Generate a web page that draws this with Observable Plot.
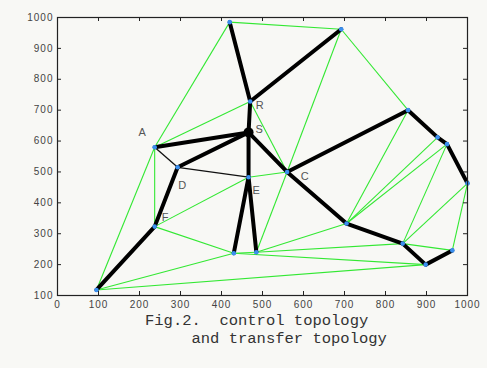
<!DOCTYPE html>
<html><head><meta charset="utf-8">
<script src="https://cdn.jsdelivr.net/npm/d3@7"></script>
<script src="https://cdn.jsdelivr.net/npm/@observablehq/plot@0.6"></script>
<style>
body{margin:0;background:#f8f8f5;}
#wrap{position:relative;width:487px;height:368px;overflow:hidden;}
#cap{position:absolute;left:145px;top:312px;margin:0;font-family:"Liberation Mono",monospace;font-size:15.5px;line-height:18px;color:#333;}
</style></head><body>
<div id="wrap"><div id="chart"></div><pre id="cap"></pre></div>
<script>
// Nodes of the topology
const nodeNames = ["T1","T2","R","S","A","D","E","C","P1","P2","P3","P4","Q1","Q2","Q3","Q4","B1","B2","F","L"];
const nodeX = [420, 692, 470, 466, 237, 293, 466, 560, 855, 927, 950, 1000, 705, 842, 898, 963, 430, 485, 237, 95];
const nodeY = [985, 962, 728, 628, 580, 515, 483, 500, 700, 612, 590, 463, 333, 268, 200, 246, 237, 240, 323, 118];

// Control topology (thick black)
const thickEdges = [["T1","R"],["T2","R"],["R","S"],["S","E"],["E","B1"],["E","B2"],["A","S"],["D","S"],["D","F"],["F","L"],["S","C"],["C","P1"],["P1","P2"],["P2","P3"],["P3","P4"],["C","Q1"],["Q1","Q2"],["Q2","Q3"],["Q3","Q4"]];
// Thin black links
const thinBlackEdges = [["A","D"],["D","E"]];
// Transfer topology (green)
const greenEdges = [["T1","T2"],["T1","A"],["A","R"],["A","F"],["A","L"],["R","C"],["T2","C"],["T2","P1"],["E","C"],["C","B2"],["E","F"],["F","B1"],["L","B1"],["L","Q3"],["B1","B2"],["B2","Q1"],["B2","Q2"],["B1","Q3"],["Q1","P1"],["Q1","P2"],["Q1","P3"],["Q2","P3"],["Q2","P4"],["Q4","P4"],["Q2","Q4"]];

const labelNodes = ["A","R","S","D","E","C","F"];
const labelOffsets = {A:[-12,-15], R:[10,4], S:[11,-3], D:[5,18], E:[8,13], C:[18,5], F:[11,-9]};

const xTicks = [0,100,200,300,400,500,600,700,800,900,1000];
const yTicks = [100,200,300,400,500,600,700,800,900,1000];
const captionLines = ["Fig.2.  control topology", "     and transfer topology"];

const W = 487, H = 312, mL = 57, mR = 20, mT = 17, mB = 17, tick = 4;
const innerW = W - mL - mR, innerH = H - mT - mB;

const pos = new Map(nodeNames.map((n,i)=>[n,[nodeX[i],nodeY[i]]]));
const seg = edges => edges.map(([a,b])=>({x1:pos.get(a)[0],y1:pos.get(a)[1],x2:pos.get(b)[0],y2:pos.get(b)[1]}));
const nodes = nodeNames.map((n,i)=>({n,x:nodeX[i],y:nodeY[i]}));
const labels = labelNodes.map(n=>({n,x:pos.get(n)[0],y:pos.get(n)[1],dx:labelOffsets[n][0],dy:labelOffsets[n][1]}));
const L = {x1:"x1",y1:"y1",x2:"x2",y2:"y2"};
const fmt = d => String(d);
const id = d => d;

const chart = Plot.plot({
  width:W, height:H, marginLeft:mL, marginRight:mR, marginTop:mT, marginBottom:mB,
  style:{background:"transparent", fontFamily:"Liberation Sans, sans-serif", fontSize:"10px", color:"#444", letterSpacing:"1px"},
  x:{domain:[0,1000]},
  y:{domain:[100,1000]},
  marks:[
    Plot.link(seg(greenEdges), {...L, stroke:"#33e833", strokeWidth:1.1}),
    Plot.link(seg(thinBlackEdges), {...L, stroke:"#111", strokeWidth:1.3}),
    Plot.link(seg(thickEdges), {...L, stroke:"#000", strokeWidth:4, strokeLinecap:"round"}),
    Plot.dot(nodes.filter(d=>d.n!=="S"), {x:"x", y:"y", r:2.3, fill:"#3a8ff0"}),
    Plot.dot(nodes.filter(d=>d.n==="S"), {x:"x", y:"y", r:5, fill:"#000"}),
    ...labels.map(d=>Plot.text([d], {x:"x", y:"y", text:"n", dx:d.dx, dy:d.dy, fontSize:11, fill:"#555"})),
    // inward ticks on all four sides
    Plot.tickX(xTicks, {x:id, insetTop:innerH - tick, stroke:"#222"}),
    Plot.tickX(xTicks, {x:id, insetBottom:innerH - tick, stroke:"#222"}),
    Plot.tickY(yTicks, {y:id, insetRight:innerW - tick, stroke:"#222"}),
    Plot.tickY(yTicks, {y:id, insetLeft:innerW - tick, stroke:"#222"}),
    Plot.frame({stroke:"#222", strokeWidth:1.2}),
    Plot.axisX(xTicks, {anchor:"bottom", tickSize:0, tickPadding:5, tickFormat:fmt, label:null}),
    Plot.axisY(yTicks, {anchor:"left", tickSize:0, tickPadding:4, tickFormat:fmt, label:null})
  ]
});
document.getElementById("chart").append(chart);
document.getElementById("cap").textContent = captionLines.join("\n");
</script>
</body></html>
